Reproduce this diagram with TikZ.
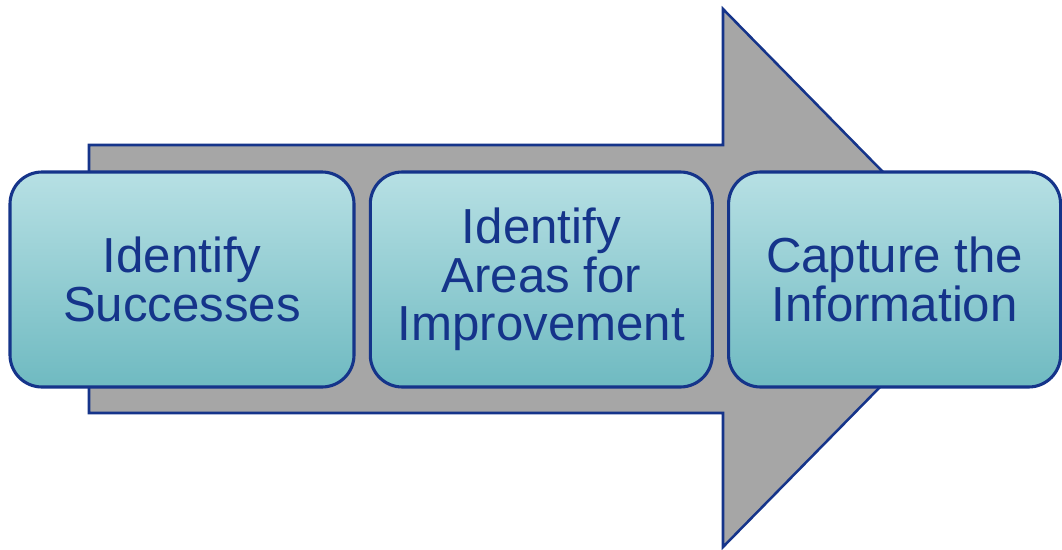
\documentclass[tikz,border=0pt]{standalone}
\usepackage{fontspec}
\setmainfont{Liberation Sans}
\usetikzlibrary{positioning}
\definecolor{stepblue}{HTML}{15348A}
\definecolor{steptop}{HTML}{B7E0E4}
\definecolor{stepbot}{HTML}{6FBAC1}
\definecolor{arrowgray}{HTML}{A6A6A6}
\begin{document}
\begin{tikzpicture}[
  stagebox/.style={draw=stepblue,line width=2.2pt,rounded corners=0.8cm,
    top color=steptop,bottom color=stepbot,minimum width=8.55cm,
    minimum height=5.375cm,align=center,text=stepblue,inner sep=0pt,
    font=\fontsize{35}{34.5}\selectfont},
  node distance=0.33cm]
  \useasboundingbox (0,0) rectangle (26.55,13.725);
  \draw[stepblue,line width=1.8pt,fill=arrowgray]
    (2.225,3.4) -- (2.225,10.1) -- (18.075,10.1) -- (18.075,13.5)
    -- (24.675,6.775) -- (18.075,0.05) -- (18.075,3.4) -- cycle;
  \node[stagebox,minimum width=8.6cm] (succ) at (4.55,6.7375) {Identify\\Successes};
  \node[stagebox,right=of succ] (impr) {Identify\\Areas for\\Improvement};
  \node[stagebox,right=of impr,minimum width=8.3cm] (capt) {Capture the\\Information};
\end{tikzpicture}
\end{document}
